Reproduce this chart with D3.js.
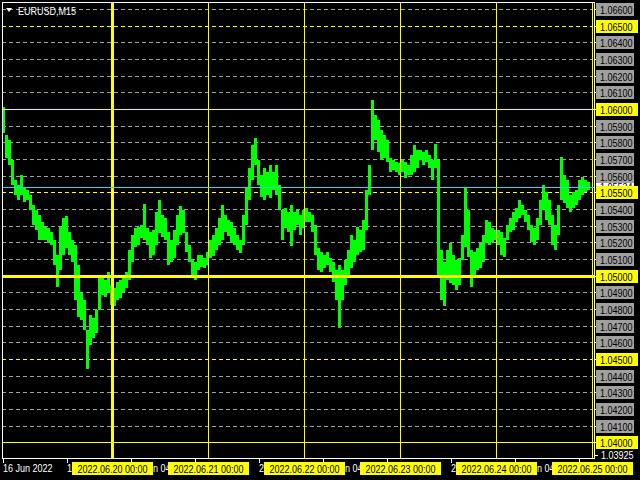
<!DOCTYPE html>
<html><head><meta charset="utf-8">
<script src="https://cdn.jsdelivr.net/npm/d3@7/dist/d3.min.js"></script>
<style>
html,body{margin:0;padding:0;background:#000;}
svg{display:block;}
text{font-family:"Liberation Sans",Arial,sans-serif;font-size:11px;}
</style></head>
<body>
<svg id="chart" width="640" height="480"></svg>
<script>
// ---------- DATA ----------
const symbol = "EURUSD,M15";
// high / low of the M15 bars, sampled every 3 bars from the first bar (16 Jun 2022)
const barStep = 3;
const highs = [
1.06012,1.05844,1.05814,1.05694,1.05574,1.05544,1.05604,1.05526,1.05514,1.05484,
1.05424,1.05394,1.05364,1.05322,1.05292,1.05286,1.05262,1.05214,1.05124,1.05298,
1.05346,1.05358,1.05262,1.05214,1.05184,1.05064,1.04896,1.04854,1.04674,1.04764,
1.04746,1.04794,1.04992,1.05004,1.04974,1.05022,1.04944,1.04926,1.04962,1.04974,
1.04986,1.05022,1.05154,1.05244,1.05286,1.05292,1.05304,1.05430,1.05286,1.05262,
1.05274,1.05382,1.05454,1.05364,1.05346,1.05262,1.05214,1.05274,1.05364,1.05418,
1.05394,1.05262,1.05184,1.05094,1.05082,1.05124,1.05124,1.05106,1.05142,1.05214,
1.05244,1.05286,1.05346,1.05424,1.05364,1.05334,1.05322,1.05286,1.05244,1.05214,
1.05364,1.05532,1.05646,1.05784,1.05826,1.05694,1.05604,1.05646,1.05622,1.05664,
1.05622,1.05664,1.05544,1.05394,1.05406,1.05382,1.05424,1.05382,1.05394,1.05364,
1.05394,1.05406,1.05382,1.05364,1.05304,1.05166,1.05142,1.05124,1.05142,1.05106,
1.05082,1.05034,1.05064,1.05034,1.05094,1.05154,1.05244,1.05214,1.05292,1.05274,
1.05334,1.05514,1.05664,1.06054,1.05964,1.05934,1.05874,1.05844,1.05814,1.05706,
1.05694,1.05682,1.05676,1.05694,1.05682,1.05664,1.05724,1.05784,1.05754,1.05754,
1.05742,1.05754,1.05724,1.05694,1.05790,1.05694,1.05154,1.05082,1.05154,1.05196,
1.05124,1.05094,1.05106,1.05244,1.05532,1.05394,1.05154,1.05142,1.05166,1.05196,
1.05244,1.05334,1.05322,1.05286,1.05274,1.05274,1.05262,1.05226,1.05304,1.05346,
1.05382,1.05406,1.05454,1.05424,1.05394,1.05364,1.05304,1.05286,1.05346,1.05454,
1.05544,1.05502,1.05454,1.05364,1.05304,1.05424,1.05712,1.05604,1.05574,1.05484,
1.05502,1.05514,1.05574,1.05592,1.05574,1.05562];
const lows = [
1.05856,1.05706,1.05664,1.05544,1.05484,1.05454,1.05484,1.05442,1.05454,1.05394,
1.05304,1.05274,1.05214,1.05214,1.05214,1.05196,1.05184,1.05064,1.04932,1.05034,
1.05124,1.05166,1.05124,1.05082,1.04854,1.04752,1.04734,1.04674,1.04440,1.04584,
1.04626,1.04656,1.04794,1.04884,1.04872,1.04902,1.04824,1.04818,1.04854,1.04866,
1.04902,1.04926,1.04974,1.05082,1.05172,1.05184,1.05226,1.05214,1.05184,1.05106,
1.05124,1.05184,1.05256,1.05232,1.05214,1.05064,1.05082,1.05106,1.05184,1.05244,
1.05256,1.05142,1.05082,1.05004,1.04974,1.05034,1.05052,1.05046,1.05064,1.05106,
1.05118,1.05154,1.05184,1.05214,1.05262,1.05238,1.05196,1.05184,1.05154,1.05136,
1.05184,1.05304,1.05454,1.05574,1.05664,1.05544,1.05472,1.05454,1.05484,1.05466,
1.05514,1.05484,1.05394,1.05214,1.05286,1.05262,1.05178,1.05274,1.05304,1.05244,
1.05286,1.05322,1.05322,1.05262,1.05124,1.05034,1.05022,1.05046,1.05064,1.05022,
1.04962,1.04854,1.04686,1.04854,1.04944,1.05004,1.05046,1.05082,1.05124,1.05142,
1.05154,1.05274,1.05484,1.05754,1.05814,1.05742,1.05694,1.05706,1.05682,1.05622,
1.05634,1.05622,1.05604,1.05622,1.05586,1.05604,1.05604,1.05622,1.05646,1.05694,
1.05664,1.05682,1.05646,1.05574,1.05646,1.04992,1.04854,1.04818,1.04974,1.04956,
1.04944,1.04914,1.04944,1.05094,1.05172,1.05112,1.04932,1.05004,1.05034,1.05046,
1.05082,1.05196,1.05184,1.05202,1.05214,1.05184,1.05124,1.05112,1.05214,1.05262,
1.05274,1.05322,1.05346,1.05364,1.05322,1.05274,1.05202,1.05184,1.05214,1.05304,
1.05394,1.05334,1.05304,1.05184,1.05154,1.05244,1.05454,1.05436,1.05406,1.05382,
1.05406,1.05424,1.05454,1.05484,1.05502,1.05514];
const totalBars = 589;
const priceMin = 1.03925, priceMax = 1.06600;
const priceTicks = [1.066,1.065,1.064,1.063,1.062,1.061,1.060,1.059,1.058,1.057,1.056,1.055,1.054,
  1.053,1.052,1.051,1.050,1.049,1.048,1.047,1.046,1.045,1.044,1.043,1.042,1.041,1.040];
const yellowLevels = [1.065,1.060,1.055,1.050,1.045,1.040];
const solidLevels = [1.060,1.050,1.040];
const thickLevel = 1.050;
const bidPrice = 1.05532, bidLabel = "1.05534";
const timeTickBars = [0,64,128,192,256,320,384,448,512,576];
const timeTickLabels = ["16 Jun 2022","17 Jun 12:00","20 Jun 04:00","20 Jun 20:00","21 Jun 12:00",
  "22 Jun 04:00","22 Jun 20:00","23 Jun 12:00","24 Jun 04:00","24 Jun 20:00"];
const dayBars = [109,205,301,397,493,589];
const dayLabels = ["2022.06.20 00:00","2022.06.21 00:00","2022.06.22 00:00","2022.06.23 00:00","2022.06.24 00:00","2022.06.25 00:00"];
const thickDay = "2022.06.20 00:00";

// ---------- CHART ----------
const svg = d3.select("#chart");
const L = 2, T = 2, R = 594, B = 458;
const SX = 0.82; // narrow (Tahoma-like) text
const x = d3.scaleLinear().domain([0, totalBars]).range([3.5, 592.5]);
const y = d3.scaleLinear().domain([priceMin, priceMax]).range([454.8, 9]);
const py = p => Math.round(y(p)) + 0.5;
const place = (tx, ty) => `translate(${tx},${ty}) scale(${SX},1)`;
const isYellow = d => yellowLevels.some(s => Math.abs(s-d) < 1e-9);

svg.append("rect").attr("width",640).attr("height",480).attr("fill","#000");
const fmt = d3.format(".5f");
const defs = svg.append("defs");

// dashed grid
const gridLevels = priceTicks.filter(p => !solidLevels.some(s => Math.abs(s-p) < 1e-9));
svg.append("g").selectAll("line").data(gridLevels).join("line")
  .attr("x1", L).attr("x2", R - 2)
  .attr("y1", d => py(d)).attr("y2", d => py(d))
  .attr("stroke", d => isYellow(d) ? "#ffff00" : "#a0a0a0")
  .attr("stroke-dasharray","4,3").attr("stroke-width",1);

// bars
const bars = highs.map((h,i) => ({bar: i*barStep, high: h, low: lows[i]}));
svg.append("g").selectAll("rect").data(bars).join("rect")
  .attr("x", d => x(d.bar) - 1.5).attr("width", 3)
  .attr("y", d => y(d.high)).attr("height", d => Math.max(1, y(d.low) - y(d.high)))
  .attr("fill", "#00ff00");

// solid yellow horizontal levels
svg.append("g").selectAll("line").data(solidLevels).join("line")
  .attr("x1", L).attr("x2", R)
  .attr("y1", d => d === thickLevel ? Math.round(y(d)) + 0.5 : py(d))
  .attr("y2", d => d === thickLevel ? Math.round(y(d)) + 0.5 : py(d))
  .attr("stroke","#ffff00").attr("stroke-width", d => d === thickLevel ? 3 : 1);

// vertical day lines
const days = dayBars.map((b,i) => ({bar:b, label: dayLabels[i]}));
svg.append("g").selectAll("line").data(days).join("line")
  .attr("x1", d => x(d.bar)).attr("x2", d => x(d.bar))
  .attr("y1", T).attr("y2", B)
  .attr("stroke","#ffff00").attr("stroke-width", d => d.label === thickDay ? 3 : 1);

// bid line
svg.append("line").attr("x1", L).attr("x2", R).attr("y1", py(bidPrice)).attr("y2", py(bidPrice))
  .attr("stroke","#26d9e6").attr("stroke-width",1);

// frame
svg.append("rect").attr("x", L + 0.5).attr("y", T + 0.5).attr("width", R - L).attr("height", B - T)
  .attr("fill","none").attr("stroke","#ffffff").attr("stroke-width",1);

// title
svg.append("path").attr("d","M6,8 L12,8 L9,12 Z").attr("fill","#fff");
svg.append("text").attr("transform", place(18,14.5)).attr("fill","#fff").text(symbol);

// right price axis
const pa = svg.append("g");
pa.selectAll("line").data(priceTicks.concat([priceMin])).join("line")
  .attr("x1", R + 1).attr("x2", R + 4).attr("y1", d => py(d)).attr("y2", d => py(d))
  .attr("stroke","#fff");
// bid label: only its top edge peeks out above the 1.05500 label
const bidTop = Math.round(y(bidPrice)) - 6;
const bidClipH = Math.round(y(1.055)) - 6 - bidTop;
defs.append("clipPath").attr("id","bidclip")
  .append("rect").attr("x",590).attr("y",bidTop).attr("width",50).attr("height",bidClipH);
const bidG = pa.append("g").attr("clip-path","url(#bidclip)");
bidG.append("rect").attr("x",596).attr("y", bidTop).attr("width",38).attr("height",12).attr("fill","#fff");
bidG.append("text").attr("transform", place(600, Math.round(y(bidPrice)) + 4)).attr("fill","#000").text(bidLabel);
const labs = pa.selectAll("g.lab").data(priceTicks).join("g").attr("class","lab");
labs.append("rect")
  .attr("x",596).attr("y", d => Math.round(y(d)) - 6)
  .attr("width", d => isYellow(d) ? 42 : 38).attr("height",13)
  .attr("fill", d => isYellow(d) ? "#ffff00" : "#a0a0a0");
labs.append("text").attr("transform", d => place(600, Math.round(y(d)) + 4.5)).attr("fill","#000").text(d => fmt(d));
pa.append("text").attr("transform", place(601, Math.round(y(priceMin)) + 4)).attr("fill","#fff").text(fmt(priceMin));

// bottom time axis
const ta = svg.append("g");
ta.selectAll("line").data(timeTickBars).join("line")
  .attr("x1", d => Math.floor(x(d)) + 0.5).attr("x2", d => Math.floor(x(d)) + 0.5)
  .attr("y1", B).attr("y2", B + 5).attr("stroke","#fff");
// time labels are partly covered by the day-separator labels: keep only the visible pieces
const dayX = days.map(d => Math.floor(x(d.bar)));
const gaps = [[0, dayX[0] - 40]];
for (let i = 0; i < dayX.length - 1; i++) gaps.push([dayX[i] + 41, dayX[i+1] - 40]);
const cp = defs.append("clipPath").attr("id","gapclip");
gaps.forEach(g => cp.append("rect").attr("x", g[0]).attr("y", 458).attr("width", g[1]-g[0]).attr("height", 22));
const timeG = ta.append("g").attr("clip-path","url(#gapclip)");
timeTickBars.forEach((b, i) => {
  const tx = Math.floor(x(b));
  const label = timeTickLabels[i];
  const t = timeG.append("text").attr("transform", place(tx, 472)).attr("fill","#fff").text(label);
  const node = t.node();
  const pieces = [];
  let cur = null;
  for (let c = 0; c < label.length; c++) {
    const s = tx + SX * node.getStartPositionOfChar(c).x;
    const e = tx + SX * node.getEndPositionOfChar(c).x;
    const vis = gaps.some(g => e > g[0] + 1 && s < g[1] - 1);
    if (vis) {
      if (!cur) { cur = {start: s, str: ""}; pieces.push(cur); }
      cur.str += label[c];
    } else cur = null;
  }
  t.remove();
  pieces.filter(p => p.str.trim().length).forEach(p => {
    timeG.append("text").attr("transform", place(p.start, 472)).attr("fill","#fff").text(p.str);
  });
});
const dl = ta.selectAll("g.day").data(days).join("g").attr("class","day");
dl.append("rect").attr("x", d => Math.floor(x(d.bar)) - 40).attr("y", 462).attr("width", 81).attr("height", 13).attr("fill","#ffff00");
dl.append("text").attr("transform", d => place(Math.floor(x(d.bar)) + 0.5, 472.5)).attr("text-anchor","middle").attr("fill","#000").text(d => d.label);
</script>
</body></html>
